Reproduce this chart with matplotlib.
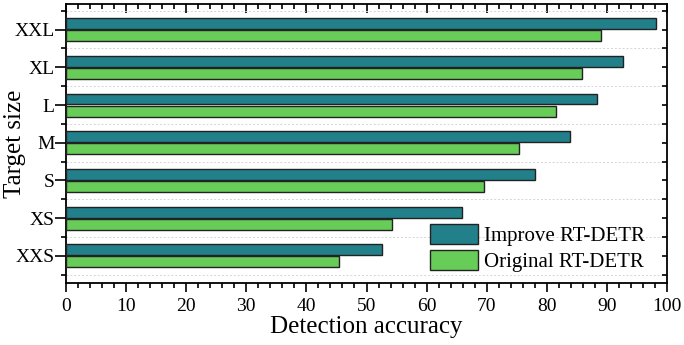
import numpy as np
import matplotlib
matplotlib.use("Agg")
import matplotlib.pyplot as plt
from matplotlib.ticker import MultipleLocator

plt.rcParams['font.family'] = ['Liberation Serif', 'DejaVu Serif']

sizes = ['XXS', 'XS', 'S', 'M', 'L', 'XL', 'XXL']
improve = [52.5, 65.9, 78.0, 83.8, 88.4, 92.6, 98.2]
original = [45.5, 54.3, 69.5, 75.4, 81.6, 85.9, 89.0]

fig = plt.figure(figsize=(6.84, 3.45), dpi=100)
ax = fig.add_axes([66/684, 1 - 283/345, 601/684, 279/345])

y = np.arange(len(sizes))
h = 0.29
ax.barh(y + 0.16, improve, height=h, color='#21808a', edgecolor='#222222',
        linewidth=1.0, label='Improve RT-DETR', zorder=3)
ax.barh(y - 0.16, original, height=h, color='#68cc58', edgecolor='#222222',
        linewidth=1.0, label='Original RT-DETR', zorder=3)

ax.set_xlim(0, 100)
ax.set_ylim(-0.72, 6.68)
ax.set_yticks(y)
ax.set_yticklabels(sizes)
ax.yaxis.set_minor_locator(MultipleLocator(1, offset=0.5))
ax.xaxis.set_major_locator(MultipleLocator(10))
ax.xaxis.set_minor_locator(MultipleLocator(2))
ax.grid(which='minor', axis='y', linestyle=(0, (2, 2)), color='#d4d4d4',
        linewidth=0.7, zorder=0)

ax.tick_params(axis='both', which='both', labelsize=14, width=1.2, color='black')
ax.tick_params(axis='x', which='major', length=6.5, direction='out', top=True, pad=4)
ax.tick_params(axis='x', which='minor', length=3.5, direction='out', top=True)
ax.tick_params(axis='y', which='major', length=8, direction='out', right=True, pad=0)
ax.tick_params(axis='y', which='minor', length=3.5, direction='out', right=True)
# mirrored ticks point inwards
for t in ax.xaxis.get_major_ticks() + ax.xaxis.get_minor_ticks():
    t.tick2line.set_marker(3)
for t in ax.yaxis.get_major_ticks() + ax.yaxis.get_minor_ticks():
    t.tick2line.set_marker(0)
    t.tick2line.set_markersize(3.5)

for s in ax.spines.values():
    s.set_linewidth(1.3)

ax.set_xlabel('Detection accuracy', fontsize=18, labelpad=1)
ax.set_ylabel('Target size', fontsize=18)
ax.yaxis.set_label_coords(-0.066, 0.5)

ax.legend(loc='lower right', bbox_to_anchor=(0.988, -0.014), frameon=False,
          fontsize=15, handlelength=2.3, handleheight=1.1, handletextpad=0.3,
          labelspacing=0.2, borderpad=0.2)

fig.savefig('out.png', dpi=100)
